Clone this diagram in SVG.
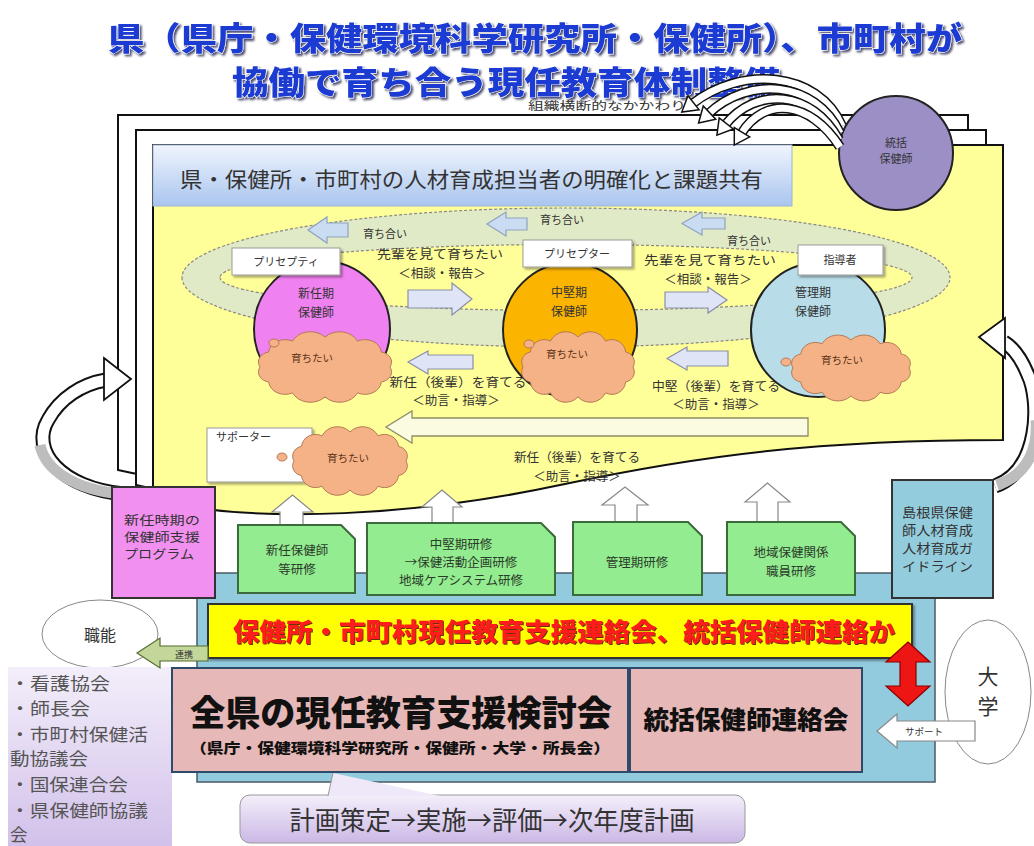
<svg xmlns="http://www.w3.org/2000/svg" width="1034" height="846" viewBox="0 0 1034 846">
<defs>
<style>
text{font-family:"Noto Sans CJK JP","Noto Sans CJK SC",sans-serif;fill:#333}
.title{font-size:32px;font-weight:900;fill:#1c3bd2;stroke:#fff;stroke-width:1;paint-order:stroke}
.frame{fill:#fff;stroke:#111;stroke-width:2}
.lbl{fill:#fff;stroke:#999;stroke-width:1}
.c11{font-size:11px}
.c13{font-size:12.5px}
.mid{text-anchor:middle}
.cloud{fill:#f6b287;stroke:#b47a55;stroke-width:1}
.ct{font-size:10.5px;fill:#5a3216;text-anchor:middle}
.rarr{fill:#dfe4f7;stroke:#8a8fa8;stroke-width:1.2}
.tarr{fill:#c9dcf2;stroke:#8fa3bd;stroke-width:1.2}
.uarr{fill:#fff;stroke:#888;stroke-width:1.2}
.green{fill:#93ec8f;stroke:#3b6b3b;stroke-width:2}
.gt{font-size:12.5px;fill:#2b3b2b;text-anchor:middle}
.rib{fill:none;stroke:#111;stroke-width:10}
.ribw{fill:none;stroke:#fff;stroke-width:7}
.big{fill:none;stroke:#111;stroke-width:15}
.bigw{fill:none;stroke:#fff;stroke-width:11}
.bigg{fill:none;stroke:#bdbdbd;stroke-width:11}
.list{font-size:17.5px;fill:#555}
</style>
<linearGradient id="hdr" x1="0" y1="0" x2="0" y2="1"><stop offset="0" stop-color="#f0f5fd"/><stop offset="1" stop-color="#a9c5ef"/></linearGradient>
<linearGradient id="lav" x1="0" y1="0" x2="0" y2="1"><stop offset="0" stop-color="#f4effa"/><stop offset="1" stop-color="#cbb8e6"/></linearGradient>
<linearGradient id="listg" x1="0" y1="0" x2="0" y2="1"><stop offset="0" stop-color="#f3eefa"/><stop offset="1" stop-color="#d2c1ea"/></linearGradient>
<filter id="ts" x="-5%" y="-20%" width="110%" height="150%"><feDropShadow dx="2" dy="2" stdDeviation="1" flood-color="#000033" flood-opacity="0.7"/></filter>
<filter id="ds" x="-10%" y="-10%" width="130%" height="140%"><feDropShadow dx="2" dy="2" stdDeviation="1" flood-color="#000" flood-opacity="0.35"/></filter>
<filter id="rs" x="-5%" y="-20%" width="110%" height="150%"><feDropShadow dx="1" dy="1" stdDeviation="0.6" flood-color="#400" flood-opacity="0.8"/></filter>
<path id="cloud" vector-effect="non-scaling-stroke" d="M50,0 A9.5,9.5 0 0 1 43.3,14 A12.6,12.6 0 0 1 25,24.2 A15.2,15.2 0 0 1 0,28 A15.2,15.2 0 0 1 -25,24.2 A12.6,12.6 0 0 1 -43.3,14 A9.5,9.5 0 0 1 -50,0 A9.5,9.5 0 0 1 -43.3,-14 A12.6,12.6 0 0 1 -25,-24.2 A15.2,15.2 0 0 1 0,-28 A15.2,15.2 0 0 1 25,-24.2 A12.6,12.6 0 0 1 43.3,-14 A9.5,9.5 0 0 1 50,0 Z"/>
<marker id="ah" markerUnits="userSpaceOnUse" markerWidth="20" markerHeight="24" viewBox="-4 -12 20 24" refX="0" refY="0" orient="auto"><path d="M-2,-9 L13,0 L-2,9 Z" fill="#fff" stroke="#111" stroke-width="1.5"/></marker>
</defs>

<rect width="1034" height="846" fill="#fff"/>

<g id="title">
<text x="108" y="50" class="title" textLength="854" lengthAdjust="spacingAndGlyphs" filter="url(#ts)">県（県庁・保健環境科学研究所・保健所）、市町村が</text>
<text x="232" y="94" class="title" textLength="548" lengthAdjust="spacingAndGlyphs" filter="url(#ts)">協働で育ち合う現任教育体制整備</text>
<text x="528" y="110" font-size="11.5" fill="#555" textLength="158" lengthAdjust="spacingAndGlyphs">組織横断的なかかわり</text>
</g>

<g id="frames">
<path class="frame" d="M118,115 H968 V410 C785,410 665,425 525,455 C385,485 225,495 118,470 Z"/>
<path class="frame" d="M136,130 H986 V425 C803,425 683,440 543,470 C403,500 243,510 136,485 Z"/>
<path d="M153,145 H1003 V440 C820,440 700,455 560,485 C420,515 260,525 153,500 Z" fill="#ffff99" stroke="#111" stroke-width="2"/>
</g>

<g id="header">
<rect x="153" y="145" width="639" height="61" fill="url(#hdr)" stroke="#9fb4d6" stroke-width="1"/>
<text x="180" y="187" font-size="21" fill="#333" textLength="583" lengthAdjust="spacingAndGlyphs">県・保健所・市町村の人材育成担当者の明確化と課題共有</text>
</g>

<g id="ring">
<path fill-rule="evenodd" fill="#e1eac6" stroke="#888" stroke-width="1.2" stroke-dasharray="3,2" d="M182,277.5 a384,69.5 0 1,0 768,0 a384,69.5 0 1,0 -768,0 Z M220,277.5 a346,33 0 1,0 692,0 a346,33 0 1,0 -692,0 Z"/>
</g>

<g id="connectors">
<path class="tarr" d="M348,223 H327 V217 L308,230 L327,243 V237 H348 Z"/>
<path class="tarr" d="M527,218 H506 V212 L487,224 L506,236 V230 H527 Z"/>
<path class="tarr" d="M725,218 H702 V212 L682,223.5 L702,235 V229 H725 Z"/>
<path class="rarr" d="M408,290 H452 V283 L472,299 L452,315 V308 H408 Z"/>
<path class="rarr" d="M665,292 H708 V287 L727,300 L708,313 V308 H665 Z"/>
<path class="rarr" d="M473,355 H428 V351 L408,362 L428,374 V369 H473 Z"/>
<path class="rarr" d="M728,351 H687 V347 L667,358.5 L687,370 V366 H728 Z"/>
<path d="M808,418 H412 V411 L386,427 L412,443 V436 H808 Z" fill="#fbfbe2" stroke="#8d8d6a" stroke-width="1.3"/>
<path class="uarr" d="M280,525 V512 H272 L292.5,495 L313,512 H303 V525 Z"/>
<path class="uarr" d="M432,523 V507 H422 L442,490 L462,507 H453 V523 Z"/>
<path class="uarr" d="M615,522 V505 H602 L625,487 L648,505 H637 V522 Z"/>
<path class="uarr" d="M757,522 V502 H745 L767.5,483 L790,502 H778 V522 Z"/>
<path class="big" d="M124,494 C60,488 30,450 48,420 C60,398 82,384 106,380"/>
<path class="bigw" d="M124,494 C60,488 30,450 48,420 C60,398 82,384 106,380"/>
<path class="bigg" d="M122,494 C75,490 45,470 40,445"/>
<polygon points="104,358 131,379 104,400" fill="#fff" stroke="#111" stroke-width="1.8"/>
<path class="big" d="M995,486 C1040,470 1040,400 1028,375 C1022,360 1014,348 1004,342"/>
<path class="bigw" d="M995,486 C1040,470 1040,400 1028,375 C1022,360 1014,348 1004,342"/>
<path class="bigg" d="M997,485 C1030,474 1038,445 1036,420"/>
<polygon points="1005,318 979,337 1005,358" fill="#fff" stroke="#111" stroke-width="1.8"/>
</g>

<g id="ring-labels">
<text x="363" y="238" class="c11">育ち合い</text>
<text x="540" y="224" class="c11">育ち合い</text>
<text x="727" y="245" class="c11">育ち合い</text>
<text x="440" y="259" class="c13 mid" textLength="126" lengthAdjust="spacingAndGlyphs">先輩を見て育ちたい</text>
<text x="442" y="278" class="c13 mid">＜相談・報告＞</text>
<text x="710" y="265" class="c13 mid" textLength="132" lengthAdjust="spacingAndGlyphs">先輩を見て育ちたい</text>
<text x="708" y="284" class="c13 mid">＜相談・報告＞</text>
<text x="458" y="387" class="c13 mid" textLength="137" lengthAdjust="spacingAndGlyphs">新任（後輩）を育てる</text>
<text x="456" y="405" class="c13 mid">＜助言・指導＞</text>
<text x="716" y="391" class="c13 mid" textLength="128" lengthAdjust="spacingAndGlyphs">中堅（後輩）を育てる</text>
<text x="716" y="409" class="c13 mid">＜助言・指導＞</text>
<text x="577" y="462" class="c13 mid" textLength="126" lengthAdjust="spacingAndGlyphs">新任（後輩）を育てる</text>
<text x="577" y="481" class="c13 mid">＜助言・指導＞</text>
</g>

<g id="node-shinnin">
<circle cx="322" cy="329" r="68" fill="#f081f0" stroke="#222" stroke-width="2"/>
<text x="316" y="298" class="mid" font-size="12" fill="#7b2a80">新任期</text>
<text x="316" y="317" class="mid" font-size="12" fill="#7b2a80">保健師</text>
<use href="#cloud" class="cloud" transform="translate(325,367) scale(1.3,1.07)"/>
<ellipse cx="274" cy="343" rx="5" ry="4" class="cloud"/>
<text x="312" y="362" class="ct">育ちたい</text>
<rect x="232" y="248" width="108" height="27" class="lbl" filter="url(#ds)"/>
<text x="286" y="266" class="c11 mid">プリセプティ</text>
</g>

<g id="node-chuken">
<circle cx="570" cy="330" r="67" fill="#fbb400" stroke="#222" stroke-width="2"/>
<text x="569" y="297" class="mid" font-size="12" fill="#6b3e00">中堅期</text>
<text x="569" y="316" class="mid" font-size="12" fill="#6b3e00">保健師</text>
<use href="#cloud" class="cloud" transform="translate(578,367) scale(1.1,1.07)"/>
<ellipse cx="529" cy="344" rx="5" ry="4" class="cloud"/>
<text x="567" y="358" class="ct">育ちたい</text>
<rect x="523" y="240" width="109" height="27" class="lbl" filter="url(#ds)"/>
<text x="577" y="258" class="c11 mid">プリセプター</text>
</g>

<g id="node-kanri">
<circle cx="818" cy="330" r="67" fill="#b8dde9" stroke="#222" stroke-width="2"/>
<text x="813" y="297" class="mid" font-size="12" fill="#2a4a6a">管理期</text>
<text x="813" y="316" class="mid" font-size="12" fill="#2a4a6a">保健師</text>
<use href="#cloud" class="cloud" transform="translate(851,368) scale(1.16,1.0)"/>
<ellipse cx="786" cy="362" rx="5" ry="4" class="cloud"/>
<text x="842" y="364" class="ct">育ちたい</text>
<rect x="798" y="245" width="85" height="30" class="lbl" filter="url(#ds)"/>
<text x="840" y="264" class="c11 mid">指導者</text>
</g>

<g id="node-supporter">
<rect x="207" y="428" width="105" height="54" class="lbl" filter="url(#ds)"/>
<text x="216" y="441" class="c11">サポーター</text>
<use href="#cloud" class="cloud" transform="translate(350,461) scale(1.12,1.04)"/>
<ellipse cx="282" cy="457" rx="5" ry="4" class="cloud"/>
<text x="348" y="462" class="ct">育ちたい</text>
</g>

<g id="node-tokatsu">
<circle cx="896" cy="153" r="57" fill="#9c8fc6" stroke="#222" stroke-width="2"/>
<text x="896" y="147" class="mid" font-size="11" fill="#333">統括</text>
<text x="896" y="163" class="mid" font-size="11" fill="#333">保健師</text>
</g>

<g id="connectors-arcs">
<path class="rib" d="M842,126 C818,70 740,66 692,104"/>
<path class="ribw" d="M842,126 C818,70 740,66 692,104"/>
<path fill="none" stroke="none" marker-end="url(#ah)" d="M842,126 C818,70 740,66 692,104"/>
<path class="rib" d="M840,133 C815,80 748,76 708,114"/>
<path class="ribw" d="M840,133 C815,80 748,76 708,114"/>
<path fill="none" stroke="none" marker-end="url(#ah)" d="M840,133 C815,80 748,76 708,114"/>
<path class="rib" d="M839,140 C812,90 756,86 725,125"/>
<path class="ribw" d="M839,140 C812,90 756,86 725,125"/>
<path fill="none" stroke="none" marker-end="url(#ah)" d="M839,140 C812,90 756,86 725,125"/>
<path class="rib" d="M840,147 C810,100 764,96 741,134"/>
<path class="ribw" d="M840,147 C810,100 764,96 741,134"/>
<path fill="none" stroke="none" marker-end="url(#ah)" d="M840,147 C810,100 764,96 741,134"/>
</g>

<g id="node-base">
<rect x="197" y="573" width="738" height="209" fill="#92cbde" stroke="#4a5a66" stroke-width="1.5"/>
</g>

<g id="node-program">
<rect x="112" y="487" width="103" height="111" fill="#f290f0" stroke="#333" stroke-width="2"/>
<text x="124" y="525" font-size="12.5" fill="#6b2d6b" textLength="76" lengthAdjust="spacingAndGlyphs">新任時期の</text>
<text x="124" y="542" font-size="12.5" fill="#6b2d6b" textLength="76" lengthAdjust="spacingAndGlyphs">保健師支援</text>
<text x="124" y="559" font-size="12.5" fill="#6b2d6b" textLength="70" lengthAdjust="spacingAndGlyphs">プログラム</text>
</g>

<g id="node-training1">
<path class="green" d="M238,525 H341 L355,539 V593 H238 Z"/>
<text x="297" y="555" class="gt">新任保健師</text>
<text x="297" y="574" class="gt">等研修</text>
</g>
<g id="node-training2">
<path class="green" d="M367,523 H541 L555,537 V595 H367 Z"/>
<text x="461" y="549" class="gt">中堅期研修</text>
<text x="461" y="567" class="gt">→保健活動企画研修</text>
<text x="461" y="585" class="gt">地域ケアシステム研修</text>
</g>
<g id="node-training3">
<path class="green" d="M573,522 H688 L702,536 V595 H573 Z"/>
<text x="637" y="567" class="gt">管理期研修</text>
</g>
<g id="node-training4">
<path class="green" d="M727,522 H841 L855,536 V595 H727 Z"/>
<text x="791" y="557" class="gt">地域保健関係</text>
<text x="791" y="576" class="gt">職員研修</text>
</g>

<g id="node-guideline">
<rect x="892" y="480" width="101" height="118" fill="#93cddd" stroke="#333" stroke-width="2"/>
<text x="902" y="517" font-size="13" fill="#333" textLength="71" lengthAdjust="spacingAndGlyphs">島根県保健</text>
<text x="902" y="535" font-size="13" fill="#333" textLength="71" lengthAdjust="spacingAndGlyphs">師人材育成</text>
<text x="902" y="553" font-size="13" fill="#333" textLength="71" lengthAdjust="spacingAndGlyphs">人材育成ガ</text>
<text x="902" y="571" font-size="13" fill="#333" textLength="71" lengthAdjust="spacingAndGlyphs">イドライン</text>
</g>

<g id="node-renrakukai">
<rect x="208" y="604" width="704" height="54" fill="#ffff00" stroke="#333" stroke-width="2" filter="url(#ds)"/>
<text x="233" y="641" font-size="25" font-weight="900" style="fill:#ff1a1a" textLength="662" lengthAdjust="spacingAndGlyphs" filter="url(#rs)">保健所・市町村現任教育支援連絡会、統括保健師連絡か</text>
</g>

<g id="node-shokuno">
<ellipse cx="100" cy="634" rx="58" ry="34" fill="#fff" stroke="#888" stroke-width="1"/>
<text x="100" y="641" class="mid" font-size="16" fill="#333">職能</text>
</g>

<g id="node-list">
<rect x="8" y="667" width="164" height="179" fill="url(#listg)"/>
<text x="10" y="690" class="list" textLength="100" lengthAdjust="spacingAndGlyphs">・看護協会</text>
<text x="10" y="715" class="list" textLength="80" lengthAdjust="spacingAndGlyphs">・師長会</text>
<text x="10" y="741" class="list" textLength="138" lengthAdjust="spacingAndGlyphs">・市町村保健活</text>
<text x="10" y="765" class="list" textLength="78" lengthAdjust="spacingAndGlyphs">動協議会</text>
<text x="10" y="791" class="list" textLength="118" lengthAdjust="spacingAndGlyphs">・国保連合会</text>
<text x="10" y="817" class="list" textLength="138" lengthAdjust="spacingAndGlyphs">・県保健師協議</text>
<text x="10" y="841" class="list">会</text>
</g>

<g id="node-kentokai">
<rect x="172" y="668" width="456" height="104" fill="#e6b8b7" stroke="#2e4a6b" stroke-width="2"/>
<text x="190" y="726" font-size="35" font-weight="900" style="fill:#111" textLength="422" lengthAdjust="spacingAndGlyphs">全県の現任教育支援検討会</text>
<text x="190" y="753" font-size="14" font-weight="900" style="fill:#111" textLength="420" lengthAdjust="spacingAndGlyphs">（県庁・保健環境科学研究所・保健所・大学・所長会）</text>
</g>

<g id="node-tokatsu-kai">
<rect x="630" y="668" width="232" height="104" fill="#e6b8b7" stroke="#2e4a6b" stroke-width="2"/>
<text x="746" y="729" class="mid" font-size="25" font-weight="900" style="fill:#111" textLength="205" lengthAdjust="spacingAndGlyphs">統括保健師連絡会</text>
</g>

<g id="node-daigaku">
<ellipse cx="988" cy="692" rx="43" ry="72" fill="#fff" stroke="#888" stroke-width="1"/>
<text x="988" y="684" class="mid" font-size="21" fill="#222">大</text>
<text x="988" y="714" class="mid" font-size="21" fill="#222">学</text>
</g>

<g id="node-plan">
<rect x="240" y="795" width="505" height="48" rx="10" fill="url(#lav)" stroke="#999" stroke-width="1"/>
<text x="492" y="830" class="mid" font-size="26" fill="#333" textLength="405" lengthAdjust="spacingAndGlyphs">計画策定→実施→評価→次年度計画</text>
</g>

<g id="connectors-bottom">
<path d="M208,646 H160 V638 L137,653 L160,668 V661 H208 Z" fill="#c4d79b" stroke="#556b2f" stroke-width="1.2"/>
<text x="184" y="658" font-size="9" class="mid" fill="#333">連携</text>
<path d="M908,642 L930,662 H916 V686 H930 L908,706 L886,686 H900 V662 H886 Z" fill="#ee1515" stroke="#8a0000" stroke-width="1.2"/>
<path d="M975,721 H897 V714 L877,731 L897,748 V741 H975 Z" fill="#fff" stroke="#888" stroke-width="1.2"/>
<text x="905" y="735" font-size="9.5" fill="#555">サポート</text>
<polygon points="333,773 328,796 440,796" fill="#efe8f8"/>
<line x1="333" y1="773" x2="328" y2="796" stroke="#999" stroke-width="1"/>
</g>
</svg>
